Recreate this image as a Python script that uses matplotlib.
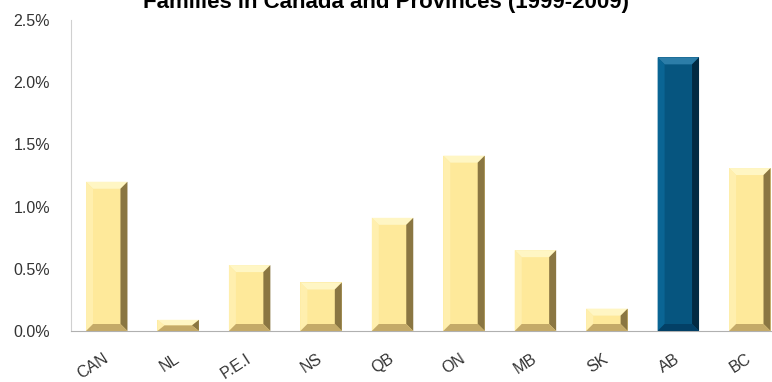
import numpy as np
import matplotlib.pyplot as plt
from matplotlib.patches import Polygon
from matplotlib.ticker import PercentFormatter

# chart data
regions = ["CAN", "NL", "P.E.I", "NS", "QB", "ON", "MB", "SK", "AB", "BC"]
growth = [1.20, 0.09, 0.53, 0.39, 0.91, 1.41, 0.65, 0.18, 2.20, 1.31]
highlight = "AB"

plt.rcParams["font.family"] = ["Liberation Sans", "DejaVu Sans"]

fig = plt.figure(figsize=(7.72, 3.82), dpi=100)
ax = fig.add_axes([0.092, 0.1335, 0.9255, 0.814])

x = np.arange(len(regions))
colors = ["#06557F" if r == highlight else "#FEE99A" for r in regions]
bars = ax.bar(x, growth, width=0.58, color=colors, zorder=2)

ax.set_xlim(-0.5, len(regions) - 0.5)
ax.set_ylim(0, 2.5)
ax.set_yticks(np.arange(0, 2.51, 0.5))
ax.yaxis.set_major_formatter(PercentFormatter(decimals=1))
ax.set_xticks(x)
ax.set_xticklabels(regions, rotation=33, ha="right", va="center",
                   rotation_mode="anchor")
ax.tick_params(axis="both", length=0, labelsize=11.5, colors="#333333")
ax.tick_params(axis="x", pad=19)
ax.tick_params(axis="y", pad=15)

for side in ["top", "right"]:
    ax.spines[side].set_visible(False)
ax.spines["left"].set_color("#D0D0D0")
ax.spines["bottom"].set_color("#B0B0B0")

# bevel look on each bar
fig.canvas.draw()
px_x = ax.transData.transform((1, 0))[0] - ax.transData.transform((0, 0))[0]
px_y = ax.transData.transform((0, 1))[1] - ax.transData.transform((0, 0))[1]
bev = 7
for b, r in zip(bars, regions):
    x0, w, h = b.get_x(), b.get_width(), b.get_height()
    x1 = x0 + w
    dx = bev / px_x
    dy = min(bev / px_y, h / 2)
    if r == highlight:
        shades = ["#2C7DA8", "#0A6594", "#022A42", "#034066"]
    else:
        shades = ["#FFF6C4", "#FFEFAE", "#8A7642", "#C4AA68"]
    top = [(x0, h), (x1, h), (x1 - dx, h - dy), (x0 + dx, h - dy)]
    left = [(x0, 0), (x0, h), (x0 + dx, h - dy), (x0 + dx, dy)]
    right = [(x1, 0), (x1, h), (x1 - dx, h - dy), (x1 - dx, dy)]
    bottom = [(x0, 0), (x1, 0), (x1 - dx, dy), (x0 + dx, dy)]
    for pts, c in zip([top, left, right, bottom], shades):
        ax.add_patch(Polygon(pts, closed=True, facecolor=c, edgecolor="none", zorder=3))

fig.text(0.5, 1 - 8 / 382, "Families in Canada and Provinces (1999-2009)",
         ha="center", va="baseline", fontsize=16, fontweight="bold")

fig.savefig("out.png", dpi=100)
